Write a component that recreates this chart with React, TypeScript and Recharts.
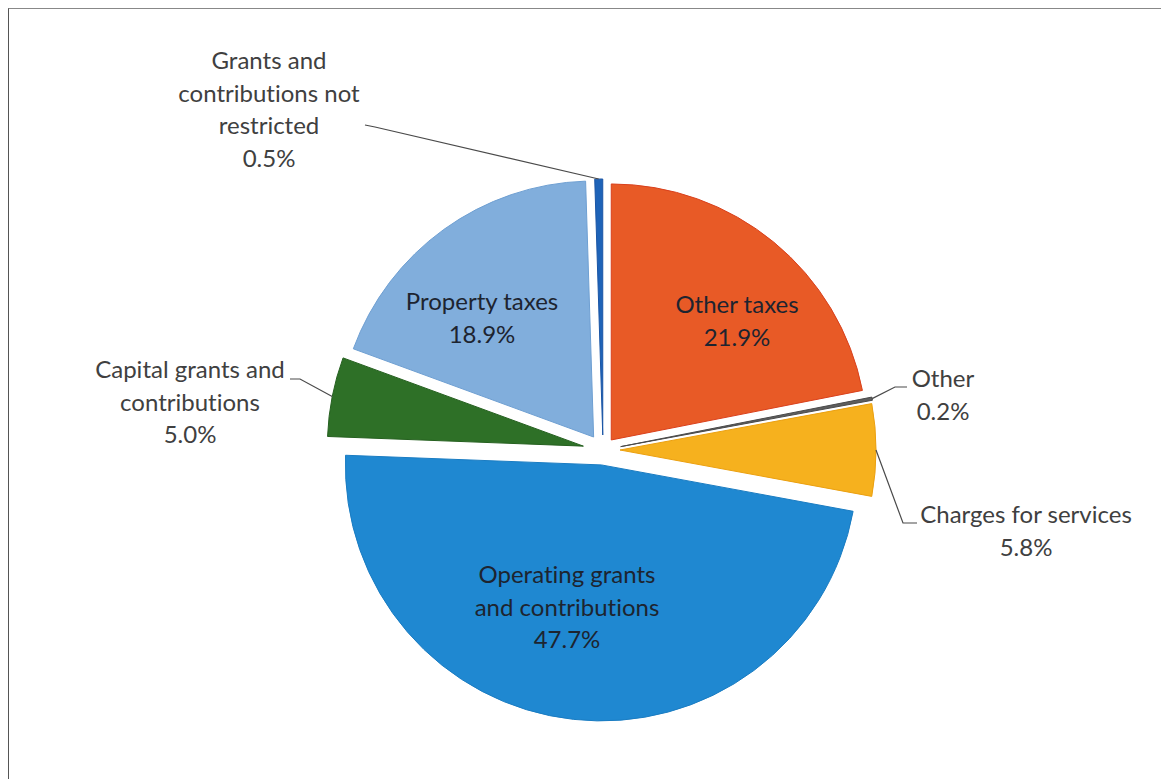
import React from 'react';
import { PieChart, Pie, Sector } from 'recharts';

// ---------- data ----------
const categories = [
  'Other taxes',
  'Other',
  'Charges for services',
  'Operating grants and contributions',
  'Capital grants and contributions',
  'Property taxes',
  'Grants and contributions not restricted',
];
const shares = [21.9, 0.2, 5.8, 47.7, 5.0, 18.9, 0.5];
const percentLabels = ['21.9%', '0.2%', '5.8%', '47.7%', '5.0%', '18.9%', '0.5%'];
const labelTextLines = [
  ['Other taxes'],
  ['Other'],
  ['Charges for services'],
  ['Operating grants', 'and contributions'],
  ['Capital grants and', 'contributions'],
  ['Property taxes'],
  ['Grants and', 'contributions not', 'restricted'],
];

// ---------- styles / layout ----------
const colors = ['#E85A26', '#5E5E5E', '#F6B11E', '#1F88D1', '#2E7027', '#81AEDC', '#1E63B8'];
const strokes = ['#D9401C', '#4A4A4A', '#EBA010', '#1A7CC2', '#25601F', '#6E9FD2', '#1A55A5'];
const insideLabel = [true, false, false, true, false, true, false];
const W = 1161;
const H = 771;
const CX = 595;
const CY = 442;
const R = 256;
const explode = [13, 18, 17, 15, 20, 16, 15];
// text block centre x and first baseline, relative to the pie centre
const labelPos = [
  [134, -137],
  [340, -63],
  [423, 73],
  [-36, 133],
  [-413, -72],
  [-121, -140],
  [-334, -381],
];
// leader line points near the text, relative to the pie centre (last point = slice edge)
const leaderPts: (number[][] | null)[] = [
  null,
  [[304, -63], [292, -63]],
  [[314, 73], [300, 73]],
  null,
  [[-313, -71], [-303, -71]],
  null,
  [[-238, -325], [-228, -323]],
];
const FONT = 'Lato, "Open Sans", sans-serif';
const FS = 24;
const LH = 32.5;

const data = categories.map((name, i) => ({ name, value: shares[i], pct: percentLabels[i] }));

const RAD = Math.PI / 180;
const polar = (cx: number, cy: number, r: number, a: number) => ({
  x: cx + r * Math.cos(-a * RAD),
  y: cy + r * Math.sin(-a * RAD),
});

const renderSlice = (p: any) => {
  const i = p.index;
  const off = polar(0, 0, explode[i], p.midAngle);
  return (
    <Sector
      cx={p.cx + off.x}
      cy={p.cy + off.y}
      innerRadius={0}
      outerRadius={p.outerRadius}
      startAngle={p.startAngle}
      endAngle={p.endAngle}
      fill={colors[i]}
      stroke={strokes[i]}
      strokeWidth={1}
    />
  );
};

const renderText = (p: any) => {
  const i = p.index;
  const off = polar(0, 0, explode[i], p.midAngle);
  const tx = p.cx + labelPos[i][0];
  const ty = p.cy + labelPos[i][1];
  const lines = [...labelTextLines[i], percentLabels[i]];
  const pts = leaderPts[i];
  let leader = null;
  if (pts) {
    const edge = polar(p.cx + off.x, p.cy + off.y, p.outerRadius, p.midAngle);
    const all = pts.map((q) => `${p.cx + q[0]},${p.cy + q[1]}`).concat(`${edge.x},${edge.y}`);
    leader = <polyline points={all.join(' ')} fill="none" stroke="#4a4a4a" strokeWidth={1.2} />;
  }
  return (
    <g>
      {leader}
      <text
        x={tx}
        y={ty}
        textAnchor="middle"
        fontFamily={FONT}
        fontSize={FS}
        fill={insideLabel[i] ? '#1d2430' : '#404040'}
        style={{ fontVariantLigatures: 'none', fontFeatureSettings: '"liga" 0, "clig" 0' }}
      >
        {lines.map((l, k) => (
          <tspan key={k} x={tx} y={ty + k * LH}>
            {l}
          </tspan>
        ))}
      </text>
    </g>
  );
};

export default function App() {
  return (
    <div style={{ position: 'relative', width: W, height: H, background: '#fff' }}>
      <div
        style={{
          position: 'absolute',
          left: 0,
          top: 0,
          width: W,
          height: H,
          borderLeft: '1.5px solid #555',
          borderTop: '1px solid #888',
          boxSizing: 'border-box',
        }}
      />
      <div style={{ position: 'absolute', left: 0, top: 0 }}>
        <PieChart width={W} height={H} margin={{ top: 0, right: 0, bottom: 0, left: 0 }}>
          <Pie
            data={data}
            dataKey="value"
            nameKey="name"
            cx={CX}
            cy={CY}
            outerRadius={R}
            startAngle={90}
            endAngle={-270}
            fill="transparent"
            stroke="none"
            label={renderSlice}
            labelLine={false}
            isAnimationActive={false}
          />
          <Pie
            data={data}
            dataKey="value"
            nameKey="name"
            cx={CX}
            cy={CY}
            outerRadius={R}
            startAngle={90}
            endAngle={-270}
            fill="transparent"
            stroke="none"
            label={renderText}
            labelLine={false}
            isAnimationActive={false}
          />
        </PieChart>
      </div>
    </div>
  );
}
